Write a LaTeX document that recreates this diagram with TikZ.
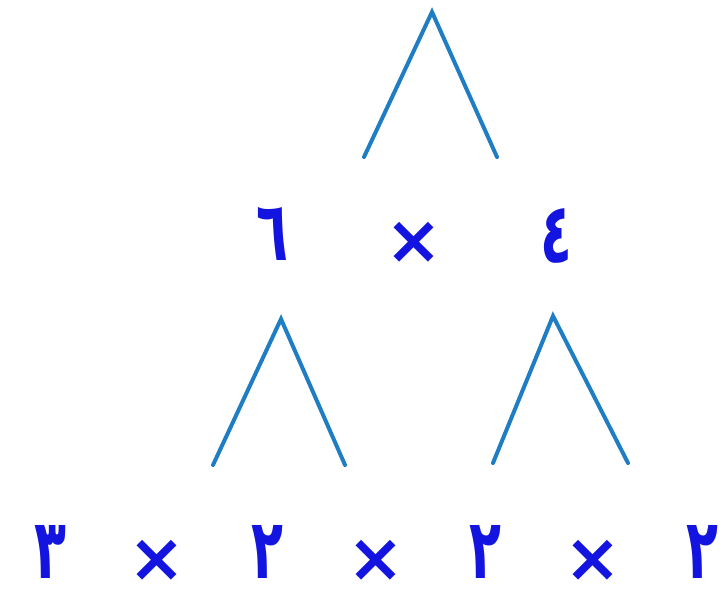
\documentclass[tikz,border=0pt]{standalone}
\usepackage{fontspec}
\newfontfamily\arabicfont[Script=Arabic]{DejaVu Sans}
\usetikzlibrary{positioning}
\definecolor{wedgeblue}{RGB}{30,125,195}
\definecolor{digitblue}{RGB}{20,20,225}
\tikzset{
  wedge/.style={wedgeblue,line width=3.4pt,line cap=round,line join=miter},
  digit/.style={digitblue,font=\arabicfont\bfseries\fontsize{62}{62}\selectfont,
    inner sep=0pt,xscale=0.72,yscale=1.15},
  times/.style={digitblue,font=\arabicfont\bfseries\fontsize{58}{58}\selectfont,inner sep=0pt}
}
\begin{document}
\begin{tikzpicture}[x=0.03cm,y=-0.03cm]
  \useasboundingbox (0,0) rectangle (724,595);
  % top wedge
  \coordinate (tpeak) at (432,12);
  \coordinate (tleft) at (364,157);
  \coordinate (tright) at (497,157);
  \draw[wedge] (tleft) -- (tpeak) -- (tright);
  % middle row
  \node[digit] (six) at (272,234) {٦};
  \node[times] (mx) at (414,243) {×};
  \node[digit] (four) at (556,236) {٤};
  % middle wedges
  \coordinate (lpeak) at (281,319);
  \coordinate (lleft) at (213,465);
  \coordinate (lright) at (345,465);
  \draw[wedge] (lleft) -- (lpeak) -- (lright);
  \coordinate (rpeak) at (553,316);
  \coordinate (rleft) at (493,463);
  \coordinate (rright) at (628,463);
  \draw[wedge] (rleft) -- (rpeak) -- (rright);
  % bottom row
  \node[digit] (three) at (50,552) {٣};
  \node[times] (bx1) at (157,561) {×};
  \node[digit] (twoa) at (267,552) {٢};
  \node[times] (bx2) at (376,561) {×};
  \node[digit] (twob) at (485,552) {٢};
  \node[times] (bx3) at (593,561) {×};
  \node[digit] (twoc) at (702,552) {٢};
\end{tikzpicture}
\end{document}
